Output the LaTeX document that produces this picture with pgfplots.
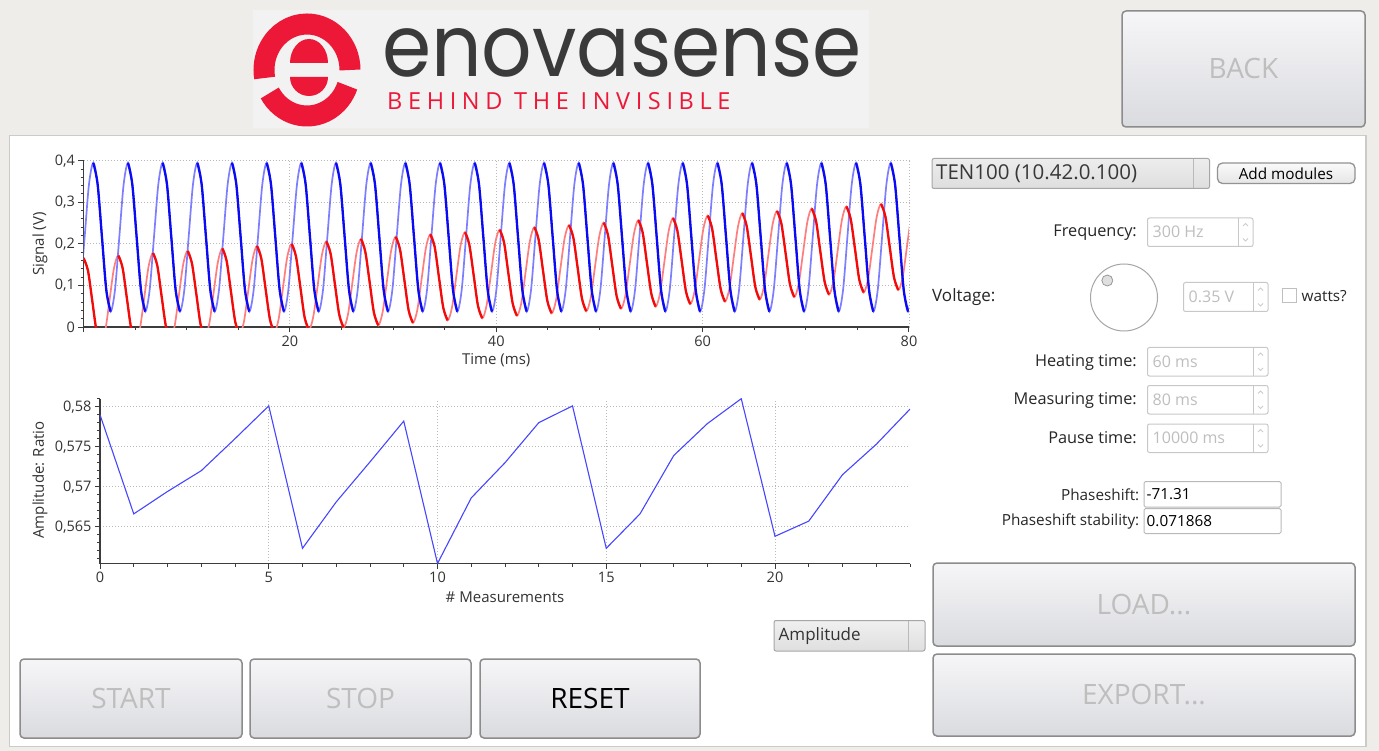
\documentclass[border=0pt]{standalone}
\usepackage{pgfplots}
\pgfplotsset{compat=1.18}
\usepackage{pgfplotstable}
\usepackage{fontspec}
\setmainfont{Open Sans}
\newfontfamily\logofont{Poppins}

\definecolor{winbg}{RGB}{239,237,234}
\definecolor{logobg}{RGB}{242,242,242}
\definecolor{panelborder}{RGB}{205,203,200}
\definecolor{btnborder}{RGB}{140,140,140}
\definecolor{btntop}{RGB}{246,246,248}
\definecolor{btnbot}{RGB}{218,219,223}
\definecolor{distxt}{RGB}{190,190,190}
\definecolor{sbborder}{RGB}{200,200,200}
\definecolor{logored}{RGB}{237,23,56}
\definecolor{logogray}{RGB}{58,58,58}
\definecolor{axcol}{RGB}{60,60,60}
\definecolor{gridcol}{RGB}{185,185,185}
\definecolor{dblue}{RGB}{10,10,245}
\definecolor{lblue}{RGB}{125,125,255}
\definecolor{dred}{RGB}{245,10,10}
\definecolor{lred}{RGB}{255,125,125}
\definecolor{ampblue}{RGB}{70,70,255}

\newcommand\spinbox[5]{%
  \draw[sbborder, rounded corners=2pt, fill=white, line width=1pt] (#1,#2) rectangle (#3,#4);
  \draw[sbborder, line width=1pt] ({#3-15},#2) -- ({#3-15},#4);
  \draw[gray!40, line width=0.8pt] ({#3-10},{#2+8}) -- ({#3-7.5},{#2+5.5}) -- ({#3-5},{#2+8});
  \draw[gray!40, line width=0.8pt] ({#3-10},{#4-8}) -- ({#3-7.5},{#4-5.5}) -- ({#3-5},{#4-8});
  \node[anchor=west, text=distxt, font=\fontsize{16}{16}\selectfont, inner sep=0pt] at ({#1+5},{(#2+#4)/2}) {#5};
}
\newcommand\bigbtn[6]{%
  \path[rounded corners=4pt, top color=btntop, bottom color=btnbot, draw=btnborder, line width=1.5pt] (#1,#2) rectangle (#3,#4);
  \node[text=#5, font=\fontsize{28}{28}\selectfont, inner sep=0pt] at ({(#1+#3)/2},{(#2+#4)/2}) {#6};
}

\pgfplotstableread{
t y yd
-0.31 0.089 nan
0.11 0.216 nan
0.53 0.343 nan
0.95 0.395 0.395
1.37 0.343 0.343
1.79 0.216 0.216
2.21 0.089 0.089
2.63 0.037 0.037
3.05 0.089 nan
3.47 0.216 nan
3.89 0.343 nan
4.31 0.395 0.395
4.73 0.343 0.343
5.15 0.216 0.216
5.57 0.089 0.089
5.99 0.037 0.037
6.41 0.089 nan
6.83 0.216 nan
7.25 0.343 nan
7.67 0.395 0.395
8.09 0.343 0.343
8.51 0.216 0.216
8.93 0.089 0.089
9.35 0.037 0.037
9.77 0.089 nan
10.19 0.216 nan
10.61 0.343 nan
11.03 0.395 0.395
11.45 0.343 0.343
11.87 0.216 0.216
12.29 0.089 0.089
12.71 0.037 0.037
13.13 0.089 nan
13.55 0.216 nan
13.97 0.343 nan
14.39 0.395 0.395
14.81 0.343 0.343
15.23 0.216 0.216
15.65 0.089 0.089
16.07 0.037 0.037
16.49 0.089 nan
16.91 0.216 nan
17.33 0.343 nan
17.75 0.395 0.395
18.17 0.343 0.343
18.59 0.216 0.216
19.01 0.089 0.089
19.43 0.037 0.037
19.85 0.089 nan
20.27 0.216 nan
20.69 0.343 nan
21.11 0.395 0.395
21.53 0.343 0.343
21.95 0.216 0.216
22.37 0.089 0.089
22.79 0.037 0.037
23.21 0.089 nan
23.63 0.216 nan
24.05 0.343 nan
24.47 0.395 0.395
24.89 0.343 0.343
25.31 0.216 0.216
25.73 0.089 0.089
26.15 0.037 0.037
26.57 0.089 nan
26.99 0.216 nan
27.41 0.343 nan
27.83 0.395 0.395
28.25 0.343 0.343
28.67 0.216 0.216
29.09 0.089 0.089
29.51 0.037 0.037
29.93 0.089 nan
30.35 0.216 nan
30.77 0.343 nan
31.19 0.395 0.395
31.61 0.343 0.343
32.03 0.216 0.216
32.45 0.089 0.089
32.87 0.037 0.037
33.29 0.089 nan
33.71 0.216 nan
34.13 0.343 nan
34.55 0.395 0.395
34.97 0.343 0.343
35.39 0.216 0.216
35.81 0.089 0.089
36.23 0.037 0.037
36.65 0.089 nan
37.07 0.216 nan
37.49 0.343 nan
37.91 0.395 0.395
38.33 0.343 0.343
38.75 0.216 0.216
39.17 0.089 0.089
39.59 0.037 0.037
40.01 0.089 nan
40.43 0.216 nan
40.85 0.343 nan
41.27 0.395 0.395
41.69 0.343 0.343
42.11 0.216 0.216
42.53 0.089 0.089
42.95 0.037 0.037
43.37 0.089 nan
43.79 0.216 nan
44.21 0.343 nan
44.63 0.395 0.395
45.05 0.343 0.343
45.47 0.216 0.216
45.89 0.089 0.089
46.31 0.037 0.037
46.73 0.089 nan
47.15 0.216 nan
47.57 0.343 nan
47.99 0.395 0.395
48.41 0.343 0.343
48.83 0.216 0.216
49.25 0.089 0.089
49.67 0.037 0.037
50.09 0.089 nan
50.51 0.216 nan
50.93 0.343 nan
51.35 0.395 0.395
51.77 0.343 0.343
52.19 0.216 0.216
52.61 0.089 0.089
53.03 0.037 0.037
53.45 0.089 nan
53.87 0.216 nan
54.29 0.343 nan
54.71 0.395 0.395
55.13 0.343 0.343
55.55 0.216 0.216
55.97 0.089 0.089
56.39 0.037 0.037
56.81 0.089 nan
57.23 0.216 nan
57.65 0.343 nan
58.07 0.395 0.395
58.49 0.343 0.343
58.91 0.216 0.216
59.33 0.089 0.089
59.75 0.037 0.037
60.17 0.089 nan
60.59 0.216 nan
61.01 0.343 nan
61.43 0.395 0.395
61.85 0.343 0.343
62.27 0.216 0.216
62.69 0.089 0.089
63.11 0.037 0.037
63.53 0.089 nan
63.95 0.216 nan
64.37 0.343 nan
64.79 0.395 0.395
65.21 0.343 0.343
65.63 0.216 0.216
66.05 0.089 0.089
66.47 0.037 0.037
66.89 0.089 nan
67.31 0.216 nan
67.73 0.343 nan
68.15 0.395 0.395
68.57 0.343 0.343
68.99 0.216 0.216
69.41 0.089 0.089
69.83 0.037 0.037
70.25 0.089 nan
70.67 0.216 nan
71.09 0.343 nan
71.51 0.395 0.395
71.93 0.343 0.343
72.35 0.216 0.216
72.77 0.089 0.089
73.19 0.037 0.037
73.61 0.089 nan
74.03 0.216 nan
74.45 0.343 nan
74.87 0.395 0.395
75.29 0.343 0.343
75.71 0.216 0.216
76.13 0.089 0.089
76.55 0.037 0.037
76.97 0.089 nan
77.39 0.216 nan
77.81 0.343 nan
78.23 0.395 0.395
78.65 0.343 0.343
79.07 0.216 0.216
79.49 0.089 0.089
79.91 0.037 0.037
80.33 0.089 nan
}\bluetab

\pgfplotstableread{
t y yd
0.00 0.166 0.166
0.43 0.136 0.136
0.85 0.063 0.063
1.27 -0.011 -0.011
1.69 -0.041 -0.041
2.11 -0.009 nan
2.53 0.066 nan
2.95 0.141 nan
3.37 0.172 0.172
3.79 0.142 0.142
4.21 0.068 0.068
4.63 -0.005 -0.005
5.05 -0.035 -0.035
5.47 -0.004 nan
5.89 0.071 nan
6.31 0.146 nan
6.73 0.178 0.178
7.15 0.148 0.148
7.57 0.074 0.074
7.99 0.001 0.001
8.41 -0.030 -0.030
8.83 0.002 nan
9.25 0.077 nan
9.67 0.152 nan
10.09 0.183 0.183
10.51 0.153 0.153
10.93 0.080 0.080
11.35 0.006 0.006
11.77 -0.024 -0.024
12.19 0.008 nan
12.61 0.083 nan
13.03 0.157 nan
13.45 0.189 0.189
13.87 0.159 0.159
14.29 0.085 0.085
14.71 0.012 0.012
15.13 -0.018 -0.018
15.55 0.013 nan
15.97 0.088 nan
16.39 0.163 nan
16.81 0.195 0.195
17.23 0.165 0.165
17.65 0.091 0.091
18.07 0.018 0.018
18.49 -0.013 -0.013
18.91 0.019 nan
19.33 0.094 nan
19.75 0.169 nan
20.17 0.200 0.200
20.59 0.170 0.170
21.01 0.097 0.097
21.43 0.023 0.023
21.85 -0.007 -0.007
22.27 0.025 nan
22.69 0.099 nan
23.11 0.174 nan
23.53 0.206 0.206
23.95 0.176 0.176
24.37 0.102 0.102
24.79 0.029 0.029
25.21 -0.001 -0.001
25.63 0.030 nan
26.05 0.105 nan
26.47 0.180 nan
26.89 0.212 0.212
27.31 0.181 0.181
27.73 0.108 0.108
28.15 0.034 0.034
28.57 0.004 0.004
28.99 0.036 nan
29.41 0.111 nan
29.83 0.186 nan
30.25 0.217 0.217
30.67 0.187 0.187
31.09 0.114 0.114
31.51 0.040 0.040
31.93 0.010 0.010
32.35 0.041 nan
32.77 0.116 nan
33.19 0.191 nan
33.61 0.223 0.223
34.03 0.193 0.193
34.45 0.119 0.119
34.87 0.046 0.046
35.29 0.016 0.016
35.71 0.047 nan
36.13 0.122 nan
36.55 0.197 nan
36.97 0.228 0.228
37.39 0.198 0.198
37.81 0.125 0.125
38.23 0.051 0.051
38.65 0.021 0.021
39.07 0.053 nan
39.49 0.128 nan
39.91 0.203 nan
40.33 0.234 0.234
40.75 0.204 0.204
41.17 0.130 0.130
41.59 0.057 0.057
42.01 0.027 0.027
42.43 0.058 nan
42.85 0.133 nan
43.27 0.208 nan
43.69 0.240 0.240
44.11 0.210 0.210
44.53 0.136 0.136
44.95 0.063 0.063
45.37 0.033 0.033
45.79 0.064 nan
46.21 0.139 nan
46.63 0.214 nan
47.05 0.245 0.245
47.47 0.215 0.215
47.89 0.142 0.142
48.31 0.068 0.068
48.73 0.038 0.038
49.15 0.070 nan
49.57 0.145 nan
49.99 0.219 nan
50.41 0.251 0.251
50.83 0.221 0.221
51.25 0.147 0.147
51.67 0.074 0.074
52.09 0.044 0.044
52.51 0.075 nan
52.93 0.150 nan
53.35 0.225 nan
53.77 0.257 0.257
54.19 0.227 0.227
54.61 0.153 0.153
55.03 0.080 0.080
55.45 0.049 0.049
55.87 0.081 nan
56.29 0.156 nan
56.71 0.231 nan
57.13 0.262 0.262
57.55 0.232 0.232
57.97 0.159 0.159
58.39 0.085 0.085
58.81 0.055 0.055
59.23 0.087 nan
59.65 0.161 nan
60.07 0.236 nan
60.49 0.268 0.268
60.91 0.238 0.238
61.33 0.164 0.164
61.75 0.091 0.091
62.17 0.061 0.061
62.59 0.092 nan
63.01 0.167 nan
63.43 0.242 nan
63.85 0.274 0.274
64.27 0.243 0.243
64.69 0.170 0.170
65.11 0.096 0.096
65.53 0.066 0.066
65.95 0.098 nan
66.37 0.173 nan
66.79 0.248 nan
67.21 0.279 0.279
67.63 0.249 0.249
68.05 0.176 0.176
68.47 0.102 0.102
68.89 0.072 0.072
69.31 0.104 nan
69.73 0.178 nan
70.15 0.253 nan
70.57 0.285 0.285
70.99 0.255 0.255
71.41 0.181 0.181
71.83 0.108 0.108
72.25 0.078 0.078
72.67 0.109 nan
73.09 0.184 nan
73.51 0.259 nan
73.93 0.290 0.290
74.35 0.260 0.260
74.77 0.187 0.187
75.19 0.113 0.113
75.61 0.083 0.083
76.03 0.115 nan
76.45 0.190 nan
76.87 0.265 nan
77.29 0.296 0.296
77.71 0.266 0.266
78.13 0.193 0.193
78.55 0.119 0.119
78.97 0.089 0.089
79.39 0.120 nan
79.81 0.195 nan
80.23 0.270 nan
}\redtab

\begin{document}
\begin{tikzpicture}
\path[use as bounding box] (0,0) rectangle (1379pt,-751pt);
\begin{scope}[x=1pt,y=-1pt]
  % window background
  \fill[winbg] (0,0) rectangle (1379,751);
  % logo
  \fill[logobg] (253,10) rectangle (869,128);
  \draw[logored, line width=21pt] (350,70) arc[start angle=0, end angle=-190, x radius=43, y radius=46];
  \draw[logored, line width=21pt] ({307+43*cos(150)},{70+46*sin(150)}) arc[start angle=150, end angle=20, x radius=43, y radius=46];
  \fill[logored] (290,63) arc[start angle=180, end angle=360, x radius=19, y radius=24] -- cycle;
  \fill[logored] (290,77) arc[start angle=180, end angle=0, x radius=19, y radius=19] -- cycle;
  \node[anchor=base west, inner sep=0pt, text=logogray, font=\logofont\fontsize{86}{86}\selectfont, xscale=0.92] at (382,77) {enovasense};
  \node[anchor=base west, inner sep=0pt, text=logored, font=\fontsize{23.5}{23.5}\selectfont\addfontfeature{LetterSpace=24}] at (387,110) {BEHIND THE INVISIBLE};
  % back button
  \bigbtn{1122}{11}{1365}{127}{distxt}{BACK}
  % main panel
  \draw[panelborder, fill=white, line width=1.2pt] (9.5,135.5) rectangle (1366,746.5);
  % bottom buttons
  \bigbtn{20}{659}{242}{738}{distxt}{START}
  \bigbtn{250}{659}{471}{738}{distxt}{STOP}
  \bigbtn{480}{659}{700}{738}{black}{RESET}
  \bigbtn{933}{563}{1355}{646}{distxt}{LOAD...}
  \bigbtn{933}{654}{1355}{736}{distxt}{EXPORT...}
  % amplitude combo
  \path[rounded corners=2pt, top color=gray!12, bottom color=gray!25, draw=gray!70, line width=1pt] (774,620.5) rectangle (925,651);
  \draw[gray!55, line width=1pt] (908,621) -- (908,650.5);
  \node[anchor=west, inner sep=0pt, text=black!80, font=\fontsize{17}{17}\selectfont] at (778.5,636) {Amplitude};
  % module combo
  \path[rounded corners=2pt, top color=gray!14, bottom color=gray!26, draw=gray!70, line width=1pt] (932,158.5) rectangle (1209.5,188.5);
  \draw[gray!55, line width=1pt] (1193,159) -- (1193,188);
  \node[anchor=west, inner sep=0pt, text=black!78, font=\fontsize{20.5}{20.5}\selectfont] at (936,173.5) {TEN100 (10.42.0.100)};
  \path[rounded corners=5pt, top color=gray!4, bottom color=gray!20, draw=gray!85, line width=1.3pt] (1217.5,163) rectangle (1355,183.5);
  \node[inner sep=0pt, text=black, font=\fontsize{15.3}{15.3}\selectfont] at (1286,173.5) {Add modules};
  % settings
  \node[anchor=east, inner sep=0pt, text=black!85, font=\fontsize{16.3}{16.3}\selectfont] at (1137,233) {Frequency:};
  \spinbox{1147.5}{218}{1253}{246.5}{300 Hz}
  \node[anchor=west, inner sep=0pt, text=black!85, font=\fontsize{17}{17}\selectfont] at (932,297) {Voltage:};
  \draw[gray!70, fill=white, line width=1pt] (1124,297.5) circle (33.5);
  \draw[gray!80, fill=gray!25, line width=0.8pt] (1107.3,280.5) circle (5.5);
  \spinbox{1183.5}{282.5}{1268}{311.5}{0.35 V}
  \draw[gray!50, fill=white, line width=0.8pt] (1282,288.5) rectangle (1296,302.5);
  \node[anchor=west, inner sep=0pt, text=black!85, font=\fontsize{15.3}{15.3}\selectfont] at (1301.5,296) {watts?};
  \node[anchor=east, inner sep=0pt, text=black!85, font=\fontsize{16.3}{16.3}\selectfont] at (1137,362) {Heating time:};
  \spinbox{1147.5}{347.5}{1268}{376}{60 ms}
  \node[anchor=east, inner sep=0pt, text=black!85, font=\fontsize{16.3}{16.3}\selectfont] at (1137,400) {Measuring time:};
  \spinbox{1147.5}{385.5}{1268}{414}{80 ms}
  \node[anchor=east, inner sep=0pt, text=black!85, font=\fontsize{16.3}{16.3}\selectfont] at (1137,438) {Pause time:};
  \spinbox{1147.5}{424}{1268}{452.5}{10000 ms}
  \node[anchor=east, inner sep=0pt, text=black!85, font=\fontsize{15.3}{15.3}\selectfont] at (1139.5,494.5) {Phaseshift:};
  \draw[gray!55, fill=white, rounded corners=1.5pt, line width=1pt] (1144,481.5) rectangle (1281,507);
  \node[anchor=west, inner sep=0pt, text=black, font=\fontsize{15.3}{15.3}\selectfont] at (1146.5,494.5) {-71.31};
  \node[anchor=east, inner sep=0pt, text=black!85, font=\fontsize{15.3}{15.3}\selectfont] at (1139.5,521) {Phaseshift stability:};
  \draw[gray!55, fill=white, rounded corners=1.5pt, line width=1pt] (1144,508.5) rectangle (1281,533.5);
  \node[anchor=west, inner sep=0pt, text=black, font=\fontsize{15.3}{15.3}\selectfont] at (1146.5,521) {0.071868};
\end{scope}

\pgfplotsset{guiaxis/.style={
  scale only axis,
  axis x line*=bottom, axis y line*=left,
  axis line style={axcol, line width=1.4pt},
  tick align=outside, major tick length=5pt, minor tick length=3pt,
  tick style={axcol, line width=1pt},
  grid=major, major grid style={gridcol, line width=0.9pt, dash pattern=on 1pt off 2pt},
  ticklabel style={font=\fontsize{14.5}{15}\selectfont, text=black!80},
  label style={font=\fontsize{15}{16}\selectfont, text=black!80},
  scaled ticks=false,
  unbounded coords=jump, filter discard warning=false,
}}

\begin{axis}[guiaxis,
  at={(83.5pt,-327pt)}, anchor=south west,
  width=825.5pt, height=166.3pt,
  xmin=0, xmax=80, ymin=0, ymax=0.4,
  xtick={0,20,40,60,80}, xticklabels={,20,40,60,80},
  minor xtick={5,10,15,25,30,35,45,50,55,65,70,75},
  ytick={0,0.1,0.2,0.3,0.4}, yticklabels={0,{0,1},{0,2},{0,3},{0,4}},
  minor ytick={0.02,0.04,0.06,0.08,0.12,0.14,0.16,0.18,0.22,0.24,0.26,0.28,0.32,0.34,0.36,0.38},
  xlabel={Time (ms)}, ylabel={Signal (V)},
  xlabel style={at={(axis description cs:0.5,-0.198)}, anchor=center},
  ylabel style={at={(axis description cs:-0.0527,0.5)}, anchor=center},
]
\addplot[lred, line width=1.7pt, smooth] table[x=t, y=y] {\redtab};
\addplot[lblue, line width=1.7pt, smooth] table[x=t, y=y] {\bluetab};
\addplot[dred, line width=2.3pt, smooth] table[x=t, y=yd] {\redtab};
\addplot[dblue, line width=2.3pt, smooth] table[x=t, y=yd] {\bluetab};
\end{axis}

\begin{axis}[guiaxis,
  at={(100pt,-563.5pt)}, anchor=south west,
  width=810pt, height=164.8pt,
  xmin=0, xmax=24, ymin=0.5604, ymax=0.5810,
  xtick={0,5,10,15,20}, xticklabels={0,5,10,15,20},
  minor xtick={1,2,3,4,6,7,8,9,11,12,13,14,16,17,18,19,21,22,23,24},
  ytick={0.565,0.57,0.575,0.58}, yticklabels={{0,565},{0,57},{0,575},{0,58}},
  minor ytick={0.561,0.562,0.563,0.564,0.566,0.567,0.568,0.569,0.571,0.572,0.573,0.574,0.576,0.577,0.578,0.579,0.581},
  xlabel={\# Measurements}, ylabel={Amplitude: Ratio},
  xlabel style={at={(axis description cs:0.5,-0.203)}, anchor=center},
  ylabel style={at={(axis description cs:-0.074,0.507)}, anchor=center},
]
\addplot[ampblue, line width=1.1pt] coordinates {
(0,0.5790) (1,0.5666) (2,0.5694) (3,0.5720) (4,0.5760) (5,0.5801)
(6,0.5623) (7,0.5681) (8,0.5731) (9,0.5782) (10,0.5604) (11,0.5686)
(12,0.5730) (13,0.5780) (14,0.5801) (15,0.5623) (16,0.5666) (17,0.5739)
(18,0.5779) (19,0.5810) (20,0.5638) (21,0.5657) (22,0.5715) (23,0.5753)
(24,0.5797)
};
\end{axis}
\end{tikzpicture}
\end{document}
